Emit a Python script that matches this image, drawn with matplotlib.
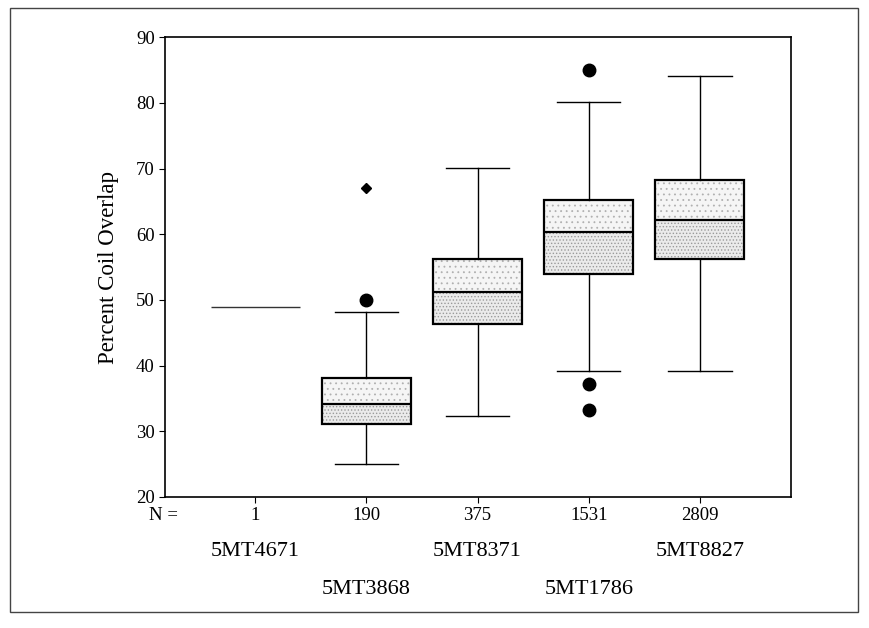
import matplotlib
matplotlib.use("Agg")
import matplotlib.pyplot as plt
from matplotlib.patches import Rectangle
import matplotlib.transforms as mtransforms

# ---- data ----
groups = ["5MT4671", "5MT3868", "5MT8371", "5MT1786", "5MT8827"]
n_counts = ["1", "190", "375", "1531", "2809"]
q1 = [49, 31.1, 46.3, 54.0, 56.3]
med = [49, 34.1, 51.2, 60.3, 62.2]
q3 = [49, 38.1, 56.2, 65.3, 68.2]
whis_lo = [49, 25.0, 32.3, 39.2, 39.2]
whis_hi = [49, 48.1, 70.1, 80.1, 84.1]
outliers = [[], [50.0], [], [85.0, 37.2, 33.3], []]
extremes = [[], [67.0], [], [], []]

plt.rcParams['font.family'] = ['Liberation Serif', 'DejaVu Serif']
plt.rcParams['hatch.linewidth'] = 0.6

fig = plt.figure(figsize=(8.69, 6.28), dpi=100)
ax = fig.add_axes([0.19, 0.2086, 0.7204, 0.732])

positions = list(range(1, len(groups) + 1))
BOXW = 0.8
stats = []
for i in range(len(groups)):
    stats.append(dict(med=med[i], q1=q1[i], q3=q3[i], whislo=whis_lo[i],
                      whishi=whis_hi[i], fliers=[]))

single = [i for i in range(len(groups)) if q1[i] == q3[i]]
multi = [i for i in range(len(groups)) if q1[i] != q3[i]]

# stippled fill: denser below the median, lighter above
for i in multi:
    ax.add_patch(Rectangle((positions[i] - BOXW / 2, q1[i]), BOXW, med[i] - q1[i],
                           facecolor='#ebebeb', edgecolor='#9a9a9a', linewidth=0,
                           hatch='.....', zorder=1))
    ax.add_patch(Rectangle((positions[i] - BOXW / 2, med[i]), BOXW, q3[i] - med[i],
                           facecolor='#f5f5f5', edgecolor='#b0b0b0', linewidth=0,
                           hatch='...', zorder=1))

bp = ax.bxp([stats[i] for i in multi], positions=[positions[i] for i in multi],
            widths=BOXW, patch_artist=True, showfliers=False,
            boxprops=dict(facecolor='none', edgecolor='black', linewidth=1.6),
            medianprops=dict(color='black', linewidth=1.6),
            whiskerprops=dict(color='black', linewidth=1.0),
            capprops=dict(color='black', linewidth=1.0),
            capwidths=0.57)

# single-observation group: drawn as one line at box width
for i in single:
    ax.hlines(med[i], positions[i] - BOXW / 2, positions[i] + BOXW / 2,
              color='#333333', linewidth=1.0)

for i in range(len(groups)):
    if outliers[i]:
        ax.plot([positions[i]] * len(outliers[i]), outliers[i], 'o', color='black',
                markersize=9, linestyle='none')
    if extremes[i]:
        ax.plot([positions[i]] * len(extremes[i]), extremes[i], 'D', color='black',
                markersize=5, linestyle='none')

ax.set_xlim(0.19, 5.82)
ax.set_ylim(20, 90)
ax.set_yticks(range(20, 91, 10))
ax.set_xticks(positions)
ax.set_xticklabels(n_counts)
ax.tick_params(axis='both', labelsize=13.5, direction='out', length=4, width=0.8, colors='black')
ax.tick_params(axis='x', pad=3)
ax.set_ylabel("Percent Coil Overlap", fontsize=16.5, labelpad=12)
for s in ax.spines.values():
    s.set_linewidth(1.2)

# N label
ax.text(0.02, -0.04, "N =", transform=ax.transAxes, ha='right', va='center', fontsize=13.5)

# group names, staggered
trans = mtransforms.blended_transform_factory(ax.transData, ax.transAxes)
for i, g in enumerate(groups):
    yrow = -0.1175 if i % 2 == 0 else -0.2023
    ax.text(positions[i], yrow, g, transform=trans, ha='center', va='center', fontsize=16)

# outer frame
fig.patches.append(Rectangle((0.012, 0.025), 0.975, 0.962, transform=fig.transFigure,
                             fill=False, edgecolor='#444444', linewidth=1.0))

fig.savefig("out.png", dpi=100)
